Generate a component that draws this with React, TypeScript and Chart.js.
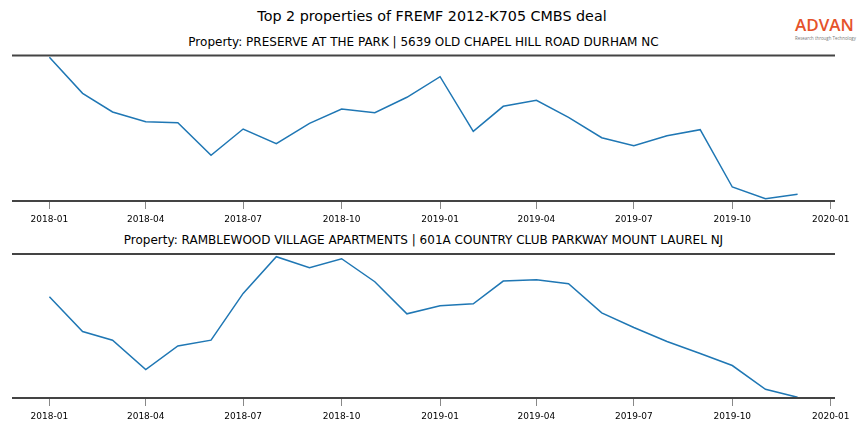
import React, { useEffect, useRef } from "react";
import { Chart, registerables } from "chart.js";

Chart.register(...registerables);

const months = [
  "2018-01", "2018-02", "2018-03", "2018-04", "2018-05", "2018-06",
  "2018-07", "2018-08", "2018-09", "2018-10", "2018-11", "2018-12",
  "2019-01", "2019-02", "2019-03", "2019-04", "2019-05", "2019-06",
  "2019-07", "2019-08", "2019-09", "2019-10", "2019-11", "2019-12",
];

const preserveValues = [
  143.7, 107.7, 89, 79.3, 78.3, 45.7, 72, 57.3, 77.7, 92, 88.3, 103.7,
  124.3, 69.7, 94.7, 100.7, 83.7, 63.3, 55.3, 65.3, 71.3, 14, 2.3, 6.7,
];

const ramblewoodValues = [
  101, 66.4, 57.7, 28.4, 52, 57.7, 104.4, 141, 130, 139, 116, 84,
  92, 94, 116.7, 118, 114, 85, 70.4, 56.4, 44.4, 32.4, 8.7, 0.7,
];

const tickLabels = [
  "2018-01", "2018-04", "2018-07", "2018-10", "2019-01",
  "2019-04", "2019-07", "2019-10", "2020-01",
];

const suptitle = "Top 2 properties of FREMF 2012-K705 CMBS deal";
const title1 = "Property: PRESERVE AT THE PARK | 5639 OLD CHAPEL HILL ROAD DURHAM NC";
const title2 = "Property: RAMBLEWOOD VILLAGE APARTMENTS | 601A COUNTRY CLUB PARKWAY MOUNT LAUREL NJ";

const DAY = 86400000;
const BASE = Date.UTC(2018, 0, 1);
const toDays = (ym: string) => {
  const [y, m] = ym.split("-").map(Number);
  return (Date.UTC(y, m - 1, 1) - BASE) / DAY;
};

const FONT = "'DejaVu Sans', sans-serif";

const spinePlugin = {
  id: "spines",
  afterDraw(chart: any) {
    const { ctx, chartArea } = chart;
    ctx.save();
    ctx.strokeStyle = "#444444";
    ctx.lineWidth = 2;
    ctx.beginPath();
    ctx.moveTo(chartArea.left, chartArea.top);
    ctx.lineTo(chartArea.right, chartArea.top);
    ctx.moveTo(chartArea.left, chartArea.bottom);
    ctx.lineTo(chartArea.right, chartArea.bottom);
    ctx.stroke();
    ctx.restore();
  },
};

function Panel({ values, yMax, top, height, padTop }: any) {
  const ref = useRef<HTMLCanvasElement>(null);
  useEffect(() => {
    const xs = months.map(toDays);
    const first = xs[0];
    const last = xs[xs.length - 1];
    const margin = (last - first) * 0.05;
    const tickVals = tickLabels.map(toDays);
    const chart = new Chart(ref.current as HTMLCanvasElement, {
      type: "line",
      data: {
        datasets: [
          {
            data: values.map((v: number, i: number) => ({ x: xs[i], y: v })),
            borderColor: "#1f77b4",
            borderWidth: 1.5,
            pointRadius: 0,
            tension: 0,
            fill: false,
          },
        ],
      },
      options: {
        animation: false,
        responsive: false,
        maintainAspectRatio: false,
        layout: { padding: { top: padTop, left: 12, right: 29, bottom: 0 } },
        plugins: { legend: { display: false }, tooltip: { enabled: false }, title: { display: false } },
        scales: {
          x: {
            type: "linear",
            min: first - margin,
            max: last + margin,
            afterBuildTicks: (scale: any) => {
              scale.ticks = tickVals.map((v) => ({ value: v }));
            },
            afterFit: (scale: any) => {
              scale.height = 29;
            },
            border: { display: false },
            grid: {
              drawOnChartArea: false,
              drawTicks: true,
              tickLength: 8,
              tickColor: "#888888",
              lineWidth: 1,
            },
            ticks: {
              autoSkip: false,
              maxRotation: 0,
              padding: 5,
              color: "#000000",
              font: { family: FONT, size: 9 },
              callback: (v: any) => {
                const idx = tickVals.indexOf(Number(v));
                return idx >= 0 ? tickLabels[idx] : "";
              },
            },
          },
          y: {
            display: false,
            min: 0,
            max: yMax,
          },
        },
      },
      plugins: [spinePlugin],
    });
    return () => chart.destroy();
  }, []);
  return (
    <canvas
      ref={ref}
      width={864}
      height={height}
      style={{ position: "absolute", left: 0, top, width: 864, height }}
    />
  );
}

const textStyle = (x: number, y: number, size: number): React.CSSProperties => ({
  position: "absolute",
  left: x,
  top: y,
  transform: "translate(-50%, -50%)",
  fontFamily: FONT,
  fontSize: size,
  lineHeight: 1,
  whiteSpace: "nowrap",
  color: "#000",
});

export default function App() {
  return (
    <div
      style={{
        position: "fixed",
        left: 0,
        top: 0,
        width: 864,
        height: 432,
        background: "#fff",
        overflow: "hidden",
      }}
    >
      <Panel values={preserveValues} yMax={145.5} top={50} height={180} padTop={5.5} />
      <Panel values={ramblewoodValues} yMax={143.7} top={250} height={177} padTop={4} />
      <div style={textStyle(432, 16, 14.3)}>{suptitle}</div>
      <div style={textStyle(423.5, 42, 12)}>{title1}</div>
      <div style={textStyle(423.5, 240, 12)}>{title2}</div>
      <div
        style={{
          position: "absolute",
          left: 795,
          top: 16.3,
          fontFamily: "'Open Sans', sans-serif",
          fontWeight: 600,
          fontSize: 17,
          lineHeight: 1,
          color: "#e5522a",
        }}
      >
        ADVAN
      </div>
      <div
        style={{
          position: "absolute",
          left: 795,
          top: 35.5,
          fontFamily: "'Open Sans', sans-serif",
          fontSize: 4.4,
          lineHeight: 1,
          color: "#777",
          whiteSpace: "nowrap",
        }}
      >
        Research through Technology
      </div>
    </div>
  );
}
